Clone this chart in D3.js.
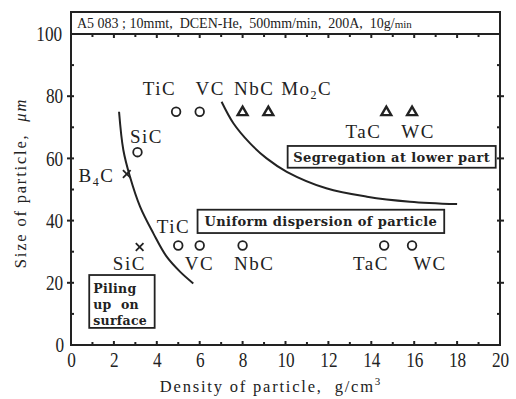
<!DOCTYPE html>
<meta charset="utf-8">
<head>
  <style>
    body { margin: 0; background: #fff; }
    svg text { font-family: "Liberation Serif", "DejaVu Serif", serif; fill: #222; white-space: pre; }
    .lbl { font-size: 19px; letter-spacing: 1.5px; }
    .boxtxt { font-family: "DejaVu Serif", serif; font-size: 13px; font-weight: bold; letter-spacing: 0.4px; }
  </style>
</head>
<body>
<div id="chart"></div>
<script src="https://d3js.org/d3.v7.min.js"></script>
<script>
  // circles (o), triangles, crosses : [density, size]
  var circles = [[3.1, 62], [4.9, 75], [6.0, 75], [5.0, 32], [6.0, 32], [8.0, 32], [14.6, 32], [15.9, 32]];
  var triangles = [[8.0, 75], [9.2, 75], [14.7, 75], [15.9, 75]];
  var crosses = [[2.6, 55], [3.2, 31.5]];

  // boundary curves
  var curveLeft = [[2.24, 75], [2.44, 62.7], [2.75, 54.1], [3.22, 44.5], [3.84, 35.9], [4.46, 28.4], [5.08, 23.6], [5.7, 19.8]];
  var curveRight = [[7.02, 78.2], [7.57, 71.3], [8.34, 64.9], [9.12, 60.0], [10.06, 55.7], [11.9, 50.4], [13.8, 47.7], [15.8, 46.1], [18.0, 45.3]];

  // particle names, anchored in data units [x, y, name, sub]
  var names = [
    [3.35, 80.5, "TiC"], [5.8, 80.5, "VC"], [7.6, 80.5, "NbC"], [9.8, 80.5, "Mo", "2", "C"],
    [12.8, 66.5, "TaC"], [15.4, 66.5, "WC"],
    [2.75, 65, "SiC"], [0.35, 52.5, "B", "4", "C"],
    [4.0, 36, "TiC"], [1.95, 24, "SiC"], [5.3, 24, "VC"], [7.6, 24, "NbC"],
    [13.15, 24, "TaC"], [15.95, 24, "WC"]
  ];

  var W = 516, H = 399, frameTop = 12;

  var x = d3.scaleLinear().domain([0, 20]).range([71, 500]);
  var y = d3.scaleLinear().domain([0, 100]).range([345, 34]);

  var svg = d3.select("#chart").append("svg")
    .attr("width", W).attr("height", H);

  // header band + frame
  svg.append("rect")
    .attr("x", x(0)).attr("y", frameTop)
    .attr("width", x(20) - x(0)).attr("height", y(0) - frameTop)
    .attr("fill", "none").attr("stroke", "#222").attr("stroke-width", 2);
  svg.append("line")
    .attr("x1", x(0)).attr("x2", x(20)).attr("y1", y(100)).attr("y2", y(100))
    .attr("stroke", "#222").attr("stroke-width", 2);

  var head = svg.append("text")
    .attr("x", 77).attr("y", 28)
    .style("font-size", "14px");
  head.append("tspan").text("A5 083 ; 10mmt,  DCEN-He,  500mm/min,  200A,  10g/");
  head.append("tspan").style("font-size", "11px").text("min");

  // axes
  var xAxis = svg.append("g")
    .attr("transform", "translate(0," + y(0) + ")")
    .call(d3.axisBottom(x).tickValues(d3.range(0, 21, 2)).tickSize(0).tickPadding(7));
  xAxis.select(".domain").remove();

  var yAxis = svg.append("g")
    .attr("transform", "translate(" + x(0) + ",0)")
    .call(d3.axisLeft(y).tickValues(d3.range(0, 101, 20)).tickSize(0).tickPadding(6));
  yAxis.select(".domain").remove();

  [xAxis, yAxis].forEach(function (a) {
    a.attr("font-family", "Liberation Serif").attr("font-size", 21);
    a.selectAll(".tick text")
      .style("font-size", "21px")
      .style("transform-box", "fill-box")
      .style("transform-origin", "center")
      .style("transform", "scaleX(0.82)");
  });

  // minor ticks
  var tk = svg.append("g").attr("stroke", "#222").attr("stroke-width", 2);
  d3.range(1, 20).forEach(function (v) {
    tk.append("line").attr("x1", x(v)).attr("x2", x(v))
      .attr("y1", y(0)).attr("y2", y(0) - (v % 2 ? 3 : 4));
    tk.append("line").attr("x1", x(v)).attr("x2", x(v))
      .attr("y1", y(100)).attr("y2", y(100) + (v % 2 ? 3 : 4));
  });
  d3.range(10, 100, 10).forEach(function (v) {
    var big = v % 20 == 0;
    tk.append("line").attr("x1", x(0) - (big ? 4 : 0)).attr("x2", x(0) + 3)
      .attr("y1", y(v)).attr("y2", y(v));
    tk.append("line").attr("x1", x(20) - 3).attr("x2", x(20) + (big ? 4 : 0))
      .attr("y1", y(v)).attr("y2", y(v));
  });

  // axis titles
  var xt = svg.append("text")
    .attr("x", 271).attr("y", 392).attr("text-anchor", "middle")
    .style("font-size", "16.5px").style("letter-spacing", "1.8px");
  xt.append("tspan").text("Density of particle,  g/cm");
  xt.append("tspan").attr("dy", -7).style("font-size", "11px").text("3");

  var yt = svg.append("text")
    .attr("transform", "translate(26,183) rotate(-90)")
    .attr("text-anchor", "middle")
    .style("font-size", "16.5px").style("letter-spacing", "1.8px");
  yt.append("tspan").text("Size of particle,  ");
  yt.append("tspan").style("font-style", "italic").text("\u03bcm");

  // curves
  var line = d3.line().x(function (d) { return x(d[0]); }).y(function (d) { return y(d[1]); })
    .curve(d3.curveCatmullRom);
  [curveLeft, curveRight].forEach(function (c) {
    svg.append("path").attr("d", line(c))
      .attr("fill", "none").attr("stroke", "#222").attr("stroke-width", 2);
  });

  // markers
  svg.selectAll(".circ").data(circles).enter().append("circle")
    .attr("cx", function (d) { return x(d[0]); })
    .attr("cy", function (d) { return y(d[1]); })
    .attr("r", 4.3).attr("fill", "none").attr("stroke", "#222").attr("stroke-width", 1.8);

  var tri = d3.symbol().type(d3.symbolTriangle).size(42);
  svg.selectAll(".tri").data(triangles).enter().append("path")
    .attr("d", tri)
    .attr("transform", function (d) { return "translate(" + x(d[0]) + "," + (y(d[1]) + 0.5) + ")"; })
    .attr("fill", "none").attr("stroke", "#222").attr("stroke-width", 2.4);

  var crs = d3.symbol().type(d3.symbolX).size(40);
  svg.selectAll(".crs").data(crosses).enter().append("path")
    .attr("d", crs)
    .attr("transform", function (d) { return "translate(" + x(d[0]) + "," + y(d[1]) + ")"; })
    .attr("fill", "none").attr("stroke", "#222").attr("stroke-width", 1.8);

  // particle names
  names.forEach(function (n) {
    var t = svg.append("text").attr("class", "lbl")
      .attr("x", x(n[0])).attr("y", y(n[1]));
    t.append("tspan").text(n[2]);
    if (n[3]) {
      t.append("tspan").attr("dy", 4).style("font-size", "12px").text(n[3]);
      t.append("tspan").attr("dy", -4).text(n[4]);
    }
  });

  // region boxes [x0, y0 (top), x1, y1 (bottom)] in data units, with their text
  var boxes = [
    { b: [10.1, 64, 19.8, 57], t: ["Segregation at lower part"] },
    { b: [5.9, 43.5, 17.4, 36], t: ["Uniform dispersion of particle"] },
    { b: [0.85, 22.5, 3.9, 5.5], t: ["Piling", "up  on", "surface"] }
  ];
  boxes.forEach(function (bx) {
    var b = bx.b;
    svg.append("rect")
      .attr("x", x(b[0])).attr("y", y(b[1]))
      .attr("width", x(b[2]) - x(b[0])).attr("height", y(b[3]) - y(b[1]))
      .attr("fill", "#fff").attr("stroke", "#222").attr("stroke-width", 1.8);
    if (bx.t.length == 1) {
      svg.append("text").attr("class", "boxtxt")
        .attr("x", (x(b[0]) + x(b[2])) / 2).attr("y", (y(b[1]) + y(b[3])) / 2 + 5)
        .attr("text-anchor", "middle").text(bx.t[0]);
    } else {
      bx.t.forEach(function (s, i) {
        svg.append("text").attr("class", "boxtxt")
          .attr("x", x(b[0]) + 4).attr("y", y(b[1]) + 18 + i * 16)
          .style("font-size", "12.5px").style("letter-spacing", "0.3px").text(s);
      });
    }
  });
</script>
</body>
